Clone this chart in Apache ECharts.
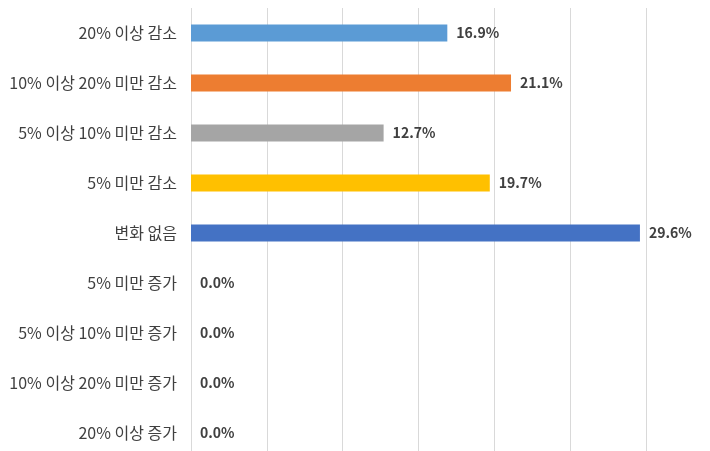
<!DOCTYPE html>
<html lang="ko">
<head>
	<meta charset="UTF-8">
	<title>변화 비율</title>
	<style>
		html, body, div {
			margin: 0;
			padding: 0;
		}
		body {
			overflow: hidden;
		}
		/* 아래쪽이 창 밖으로 약간 잘리도록 높이를 키움 */
		#main {
			width: 710px;
			height: 458px;
			background: #fff;
		}
	</style>
</head>
<body>
	<div id="main"></div>
	<script src="https://cdn.jsdelivr.net/npm/echarts@6/dist/echarts.min.js"></script>
	<script>
	// 카테고리 (위에서 아래로)
	var categories = ['20% 이상 감소', '10% 이상 20% 미만 감소', '5% 이상 10% 미만 감소', '5% 미만 감소',
		'변화 없음', '5% 미만 증가', '5% 이상 10% 미만 증가', '10% 이상 20% 미만 증가', '20% 이상 증가'];
	var values = [16.9, 21.1, 12.7, 19.7, 29.6, 0.0, 0.0, 0.0, 0.0];
	var barColors = ['#5B9BD5', '#ED7D31', '#A5A5A5', '#FFC000', '#4472C4', '#5B9BD5', '#5B9BD5', '#5B9BD5', '#5B9BD5'];

	var font = '"Noto Sans CJK KR", "Noto Sans", sans-serif';
	var myEcharts = echarts.init(document.getElementById('main'));

	var data = values.map(function (v, i) {
		return { value: v, itemStyle: { color: barColors[i] } };
	});

	myEcharts.setOption({
		animation: false,
		grid: { left: 191, right: 64, top: 8, bottom: 0, containLabel: false },
		xAxis: {
			type: 'value',
			min: 0,
			max: 30,
			interval: 5,
			axisLabel: { show: false },
			axisLine: { show: false },
			axisTick: { show: false },
			splitLine: { lineStyle: { color: '#d9d9d9', width: 1 } }
		},
		yAxis: {
			type: 'category',
			inverse: true,
			data: categories,
			axisLine: { show: false },
			axisTick: { show: false },
			axisLabel: {
				margin: 14,
				color: '#404040',
				fontSize: 16,
				fontFamily: font
			}
		},
		series: [{
			type: 'bar',
			data: data,
			barWidth: 17,
			label: {
				show: true,
				position: 'right',
				distance: 9,
				color: '#404040',
				fontSize: 14,
				fontWeight: 'bold',
				fontFamily: font,
				formatter: function (p) { return p.value.toFixed(1) + '%'; }
			}
		}]
	});
	</script>
</body>
</html>
